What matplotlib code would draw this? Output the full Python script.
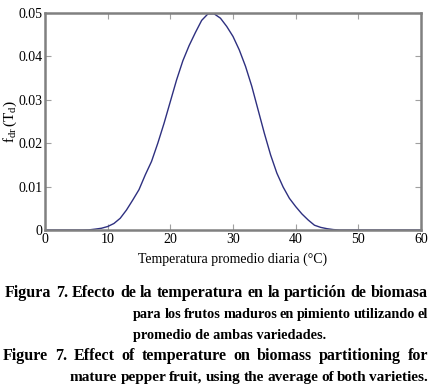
import matplotlib
matplotlib.use("Agg")
import matplotlib.pyplot as plt

# curve: daily mean temperature vs f_dr(T_d)
temp = [0, 2, 4, 6, 7, 8, 9, 10, 11, 12, 13, 14, 15, 16, 17, 18, 19, 20,
        21, 22, 23, 24, 25, 26, 27, 28, 29, 30, 31, 32, 33, 34, 35, 36,
        37, 38, 39, 40, 41, 42, 43, 44, 45, 46, 47, 50, 55, 60]
fdr = [0, 0, 0, 0, 0.00003, 0.0002, 0.0004, 0.0008, 0.0015, 0.0027, 0.0046,
       0.0069, 0.0093, 0.0127, 0.0158, 0.0200, 0.0246, 0.0296, 0.0346,
       0.0390, 0.0425, 0.0455, 0.0483, 0.0498, 0.0498, 0.0488, 0.0469,
       0.0446, 0.0415, 0.0377, 0.0331, 0.0277, 0.0223, 0.0173, 0.0131,
       0.0099, 0.0073, 0.0054, 0.0037, 0.0023, 0.0011, 0.0006, 0.0003,
       0.0001, 0, 0, 0, 0]
xticks = [0, 10, 20, 30, 40, 50, 60]
yticks = [0, 0.01, 0.02, 0.03, 0.04, 0.05]
ytick_labels = ["0", "0.01", "0.02", "0.03", "0.04", "0.05"]

caption = [
    ("Figura 7. Efecto de la temperatura en la partición de biomasa", 5, True),
    ("para los frutos maduros en pimiento utilizando el", 133, True),
    ("promedio de ambas variedades.", 133, False),
    ("Figure 7. Effect of temperature on biomass partitioning for", 3, True),
    ("mature pepper fruit, using the average of both varieties.", 70, True),
]
caption_y = [297, 318, 339, 360, 381]

plt.rcParams["font.family"] = "Liberation Serif"
plt.rcParams["mathtext.fontset"] = "custom"
plt.rcParams["mathtext.rm"] = "Liberation Serif"
plt.rcParams["mathtext.it"] = "Liberation Serif"

W, H = 433, 391
fig = plt.figure(figsize=(W / 100, H / 100), dpi=100)
ax = fig.add_axes([45 / W, 1 - 230 / H, 376 / W, 217 / H])
ax.plot(temp, fdr, color="#2e3080", lw=1.0)
ax.set_xlim(0, 60)
ax.set_ylim(0, 0.05)
ax.set_xticks(xticks)
ax.set_yticks(yticks)
ax.set_yticklabels(ytick_labels)
for s in ax.spines.values():
    s.set_color("#808080")
    s.set_linewidth(1.8)
ax.tick_params(direction="in", length=4, width=0.8, color="#a0a0a0",
               labelsize=10, top=True, right=True, pad=2)
ax.set_xlabel("Temperatura promedio diaria (°C)", fontsize=10, labelpad=5)
ax.set_ylabel(r"$\mathregular{f_{dr}\,(T_d)}$", fontsize=11, labelpad=-1)

# justified caption lines, word by word
fig.canvas.draw()
rend = fig.canvas.get_renderer()
right = 428
last_fs = 11
for (line, x0, justify), yp in zip(caption, caption_y):
    ty = 1 - yp / H
    if not justify:
        fig.text(x0 / W, ty, line, fontsize=last_fs, fontweight="bold",
                 va="baseline")
        continue
    words = line.split(" ")
    fs = 11.5
    while True:
        objs = [fig.text(0, ty, w, fontsize=fs, fontweight="bold",
                         va="baseline") for w in words]
        widths = [o.get_window_extent(rend).width for o in objs]
        gap = (right - x0 - sum(widths)) / (len(words) - 1)
        if gap >= 2 or fs < 8:
            break
        for o in objs:
            o.remove()
        fs -= 0.25
    last_fs = fs
    x = x0
    for o, w in zip(objs, widths):
        o.set_x(x / W)
        x += w + gap

fig.savefig("out.png", dpi=100)
